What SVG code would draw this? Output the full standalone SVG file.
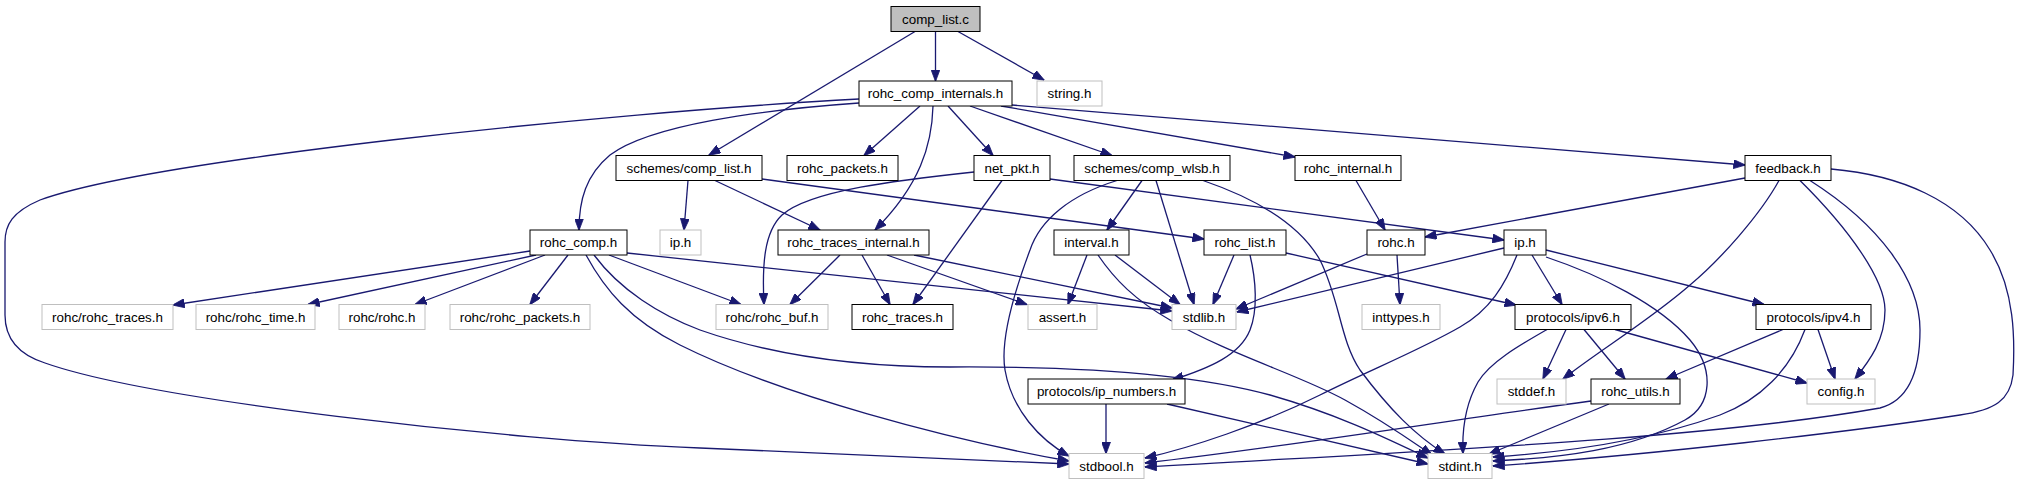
<svg xmlns="http://www.w3.org/2000/svg" width="2020" height="485" viewBox="0 0 2020 485">
<style>
rect{fill:#ffffff;stroke:#000000;stroke-width:1}
.g rect{stroke:#bfbfbf}
.root rect{fill:#bfbfbf}
text{font-family:"Liberation Sans",Helvetica,Arial,sans-serif;font-size:13.4px;fill:#000000;text-anchor:middle}
#edges path{fill:none;stroke:#191970;stroke-width:1.3;marker-end:url(#ah)}
</style>
<defs>
<marker id="ah" viewBox="0 0 12 9" markerWidth="12" markerHeight="9" markerUnits="userSpaceOnUse" refX="11.5" refY="4.5" orient="auto">
<path d="M0,0 L12,4.5 L0,9 z" fill="#191970" stroke="#191970" stroke-width="0.8"/>
</marker>
</defs>
<rect x="0" y="0" width="2020" height="485" style="fill:#ffffff;stroke:none"/>
<g id="edges">
<path d="M935.5,31.5 L935.5,81"/>
<path d="M958,31.5 L1044,80"/>
<path d="M915,31.5 L709,155"/>
<path d="M859,99 C600,113 150,160 40,200 C12,212 5,225 5,242 L5,315 C5,340 20,355 45,363 C150,400 500,440 700,448 C850,455 980,461 1069,464"/>
<path d="M859,103 C760,110 650,125 610,155 C586,175 579,200 579,230"/>
<path d="M920,106 L864,155.5"/>
<path d="M933,106 C932,145 920,185 875,230"/>
<path d="M948,106 L993,155.5"/>
<path d="M970,106 L1112,155.5"/>
<path d="M1001,106 L1295,157"/>
<path d="M1012,105 C1300,130 1550,150 1745,165"/>
<path d="M688,180.5 L684,230"/>
<path d="M715,180.5 L820,230"/>
<path d="M762,179 L1204,239"/>
<path d="M974,172 C900,180 810,190 782,215 C764,232 762,265 764,304.5"/>
<path d="M1002,180.5 L913,304.5"/>
<path d="M1050,179 L1504,240"/>
<path d="M1117,180.5 C1070,195 1040,220 1030,250 C1015,290 1000,340 1005,370 C1012,410 1040,440 1069,456"/>
<path d="M1142,180.5 L1107,230"/>
<path d="M1156,180.5 L1194,304.5"/>
<path d="M1203,180.5 C1260,200 1300,225 1320,260 C1340,300 1340,340 1360,370 C1390,410 1415,435 1445,454"/>
<path d="M1356,180.5 L1385,230"/>
<path d="M530,251 L173,305"/>
<path d="M536,255 L308,304.5"/>
<path d="M545,255 L415,304.5"/>
<path d="M568,255 L530,304.5"/>
<path d="M586,255 C605,290 630,320 680,345 C780,395 950,440 1069,461"/>
<path d="M594,255 C620,290 660,315 700,330 C780,358 870,367 950,367 C1100,366 1200,376 1270,395 C1340,415 1390,440 1428,458"/>
<path d="M609,255 L741,304.5"/>
<path d="M627,253 L1172,311"/>
<path d="M840,255 L790,304.5"/>
<path d="M862,255 L890,304.5"/>
<path d="M887,255 L1027,304.5"/>
<path d="M914,255 L1172,308"/>
<path d="M1087,255 L1068,304.5"/>
<path d="M1098,255 C1115,280 1135,300 1170,320 C1230,355 1300,375 1345,400 C1385,422 1410,440 1432,455"/>
<path d="M1115,255 L1180,304.5"/>
<path d="M1234,255 L1213,304.5"/>
<path d="M1250,255 C1256,280 1258,310 1250,330 C1240,355 1210,368 1172,380"/>
<path d="M1286,253 L1516,305"/>
<path d="M1367,254 L1236,309"/>
<path d="M1397,255 L1400,304.5"/>
<path d="M1504,248 L1237,312"/>
<path d="M1517,255 C1505,285 1490,310 1460,327 C1420,350 1370,370 1320,395 C1260,425 1190,448 1145,458"/>
<path d="M1532,255 L1562,304.5"/>
<path d="M1546,257 C1600,275 1660,305 1690,340 C1715,370 1712,405 1685,420 C1630,450 1560,458 1493,461"/>
<path d="M1546,250 L1764,304.5"/>
<path d="M1745,178 L1425,237"/>
<path d="M1779,180.5 C1760,215 1720,260 1690,285 C1650,320 1600,350 1563,379"/>
<path d="M1800,180.5 C1850,230 1885,280 1885,310 C1885,340 1870,360 1855,379"/>
<path d="M1810,180.5 C1880,225 1920,280 1920,330 C1920,370 1910,400 1880,408 C1700,440 1400,452 1145,467"/>
<path d="M1831,169 C1900,175 1960,200 1990,250 C2015,290 2015,340 2013,375 C2010,400 1995,410 1960,415 C1850,432 1650,455 1493,466"/>
<path d="M1547,329.5 C1520,345 1490,362 1478,382 C1465,405 1462,430 1463,453.5"/>
<path d="M1566,329.5 L1543,379"/>
<path d="M1584,329.5 L1625,379"/>
<path d="M1615,329.5 L1807,383"/>
<path d="M1783,329.5 L1666,379"/>
<path d="M1805,329.5 C1790,370 1760,400 1720,415 C1650,440 1570,452 1493,457"/>
<path d="M1818,329.5 L1835,379"/>
<path d="M1106,404 L1106,453.5"/>
<path d="M1167,404 L1428,464"/>
<path d="M1591,401 C1450,420 1300,445 1145,463"/>
<path d="M1609,404 L1489,454"/>
</g>
<g id="n_comp_list_c" class="root"><rect x="891" y="6.5" width="89" height="25"/><text x="935.5" y="23.5">comp_list.c</text></g>
<g id="n_rohc_comp_internals_h"><rect x="859" y="81" width="153" height="25"/><text x="935.5" y="98">rohc_comp_internals.h</text></g>
<g id="n_string_h" class="g"><rect x="1037" y="81" width="65" height="25"/><text x="1069.5" y="98">string.h</text></g>
<g id="n_schemes_comp_list_h"><rect x="616" y="155.5" width="146" height="25"/><text x="689" y="172.5">schemes/comp_list.h</text></g>
<g id="n_rohc_packets_h"><rect x="787" y="155.5" width="111" height="25"/><text x="842.5" y="172.5">rohc_packets.h</text></g>
<g id="n_net_pkt_h"><rect x="974" y="155.5" width="76" height="25"/><text x="1012" y="172.5">net_pkt.h</text></g>
<g id="n_schemes_comp_wlsb_h"><rect x="1074" y="155.5" width="156" height="25"/><text x="1152" y="172.5">schemes/comp_wlsb.h</text></g>
<g id="n_rohc_internal_h"><rect x="1295" y="155.5" width="106" height="25"/><text x="1348" y="172.5">rohc_internal.h</text></g>
<g id="n_feedback_h"><rect x="1745" y="155.5" width="86" height="25"/><text x="1788" y="172.5">feedback.h</text></g>
<g id="n_rohc_comp_h"><rect x="530" y="230" width="97" height="25"/><text x="578.5" y="247">rohc_comp.h</text></g>
<g id="n_ip_h_gray" class="g"><rect x="660" y="230" width="41" height="25"/><text x="680.5" y="247">ip.h</text></g>
<g id="n_rohc_traces_internal_h"><rect x="778" y="230" width="151" height="25"/><text x="853.5" y="247">rohc_traces_internal.h</text></g>
<g id="n_interval_h"><rect x="1054" y="230" width="75" height="25"/><text x="1091.5" y="247">interval.h</text></g>
<g id="n_rohc_list_h"><rect x="1204" y="230" width="82" height="25"/><text x="1245" y="247">rohc_list.h</text></g>
<g id="n_rohc_h"><rect x="1367" y="230" width="58" height="25"/><text x="1396" y="247">rohc.h</text></g>
<g id="n_ip_h"><rect x="1504" y="230" width="42" height="25"/><text x="1525" y="247">ip.h</text></g>
<g id="n_rohc_rohc_traces_h" class="g"><rect x="42" y="304.5" width="131" height="25"/><text x="107.5" y="321.5">rohc/rohc_traces.h</text></g>
<g id="n_rohc_rohc_time_h" class="g"><rect x="196" y="304.5" width="119" height="25"/><text x="255.5" y="321.5">rohc/rohc_time.h</text></g>
<g id="n_rohc_rohc_h" class="g"><rect x="339" y="304.5" width="86" height="25"/><text x="382" y="321.5">rohc/rohc.h</text></g>
<g id="n_rohc_rohc_packets_h" class="g"><rect x="450" y="304.5" width="140" height="25"/><text x="520" y="321.5">rohc/rohc_packets.h</text></g>
<g id="n_rohc_rohc_buf_h" class="g"><rect x="716" y="304.5" width="112" height="25"/><text x="772" y="321.5">rohc/rohc_buf.h</text></g>
<g id="n_rohc_traces_h"><rect x="852" y="304.5" width="101" height="25"/><text x="902.5" y="321.5">rohc_traces.h</text></g>
<g id="n_assert_h" class="g"><rect x="1028" y="304.5" width="69" height="25"/><text x="1062.5" y="321.5">assert.h</text></g>
<g id="n_stdlib_h" class="g"><rect x="1172" y="304.5" width="64" height="25"/><text x="1204" y="321.5">stdlib.h</text></g>
<g id="n_inttypes_h" class="g"><rect x="1362" y="304.5" width="78" height="25"/><text x="1401" y="321.5">inttypes.h</text></g>
<g id="n_protocols_ipv6_h"><rect x="1515" y="304.5" width="116" height="25"/><text x="1573" y="321.5">protocols/ipv6.h</text></g>
<g id="n_protocols_ipv4_h"><rect x="1756" y="304.5" width="115" height="25"/><text x="1813.5" y="321.5">protocols/ipv4.h</text></g>
<g id="n_protocols_ip_numbers_h"><rect x="1028" y="379" width="157" height="25"/><text x="1106.5" y="396">protocols/ip_numbers.h</text></g>
<g id="n_stddef_h" class="g"><rect x="1497" y="379" width="69" height="25"/><text x="1531.5" y="396">stddef.h</text></g>
<g id="n_rohc_utils_h"><rect x="1591" y="379" width="89" height="25"/><text x="1635.5" y="396">rohc_utils.h</text></g>
<g id="n_config_h" class="g"><rect x="1807" y="379" width="68" height="25"/><text x="1841" y="396">config.h</text></g>
<g id="n_stdbool_h" class="g"><rect x="1069" y="453.5" width="75" height="25"/><text x="1106.5" y="470.5">stdbool.h</text></g>
<g id="n_stdint_h" class="g"><rect x="1428" y="453.5" width="64" height="25"/><text x="1460" y="470.5">stdint.h</text></g>
</svg>
